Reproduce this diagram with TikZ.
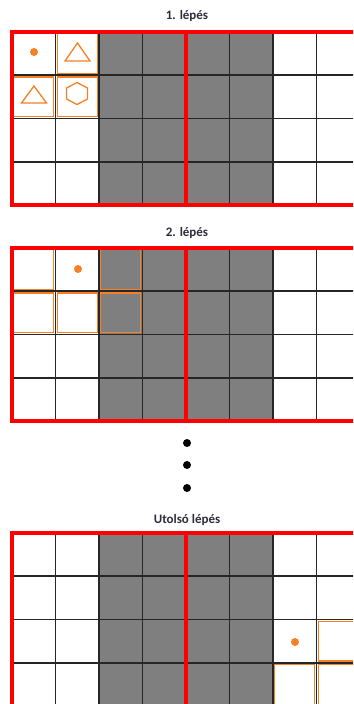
\documentclass[tikz,border=0pt]{standalone}
\usepackage{fontspec}
\setmainfont{Carlito}
\usetikzlibrary{positioning}
\definecolor{stepred}{HTML}{FF0000}
\definecolor{cellgray}{HTML}{7F7F7F}
\definecolor{hoodorange}{HTML}{F58025}
\definecolor{ink}{HTML}{2B2B3A}

\begin{document}
\begin{tikzpicture}[x=1bp, y=-1bp,
    gridline/.style={black!85, line width=1.8bp},
    frame/.style={stepred, line width=4bp},
    hood/.style={hoodorange, line width=1.3bp},
    steptitle/.style={font=\bfseries\fontsize{13}{15}\selectfont, text=ink}]
  % pixel coordinates of the 353x704 picture, y downwards
  \useasboundingbox (0,0) rectangle (353,704);
  \clip (0,0) rectangle (353,704);

  % one 4x8 board per step: top edge / title height / name / title
  \foreach \top/\ty/\name/\title in {32/16/one/{1. lépés},
                                     248/233/two/{2. lépés},
                                     533/520/last/{Utolsó lépés}}{
    % gray columns 3--6
    \fill[cellgray] (99,\top) rectangle (273,\top+173);
    % cell grid
    \foreach \i in {1,...,7}
      \draw[gridline] (12+43.5*\i,\top) -- (12+43.5*\i,\top+173);
    \foreach \j in {1,2,3}
      \draw[gridline] (12,\top+43.25*\j) -- (360,\top+43.25*\j);
    \node[steptitle] (title-\name) at (187,\ty) {\title};
  }

  % step 1: neighbourhood of the first cell
  \foreach \r/\c in {1/2, 2/1, 2/2}
    \draw[hood] (13.8+43.5*\c-43.5,33.8+43.25*\r-43.25) rectangle ++(40,39.7);
  \fill[hoodorange] (34,52) circle (4);
  \draw[hood] (77.5,43) -- (90,61) -- (65,61) -- cycle;
  \draw[hood] (34,86) -- (46.5,103) -- (21.5,103) -- cycle;
  \draw[hood] (77,82.5) -- (87.5,88) -- (87.5,99) -- (77,104.5)
    -- (66.5,99) -- (66.5,88) -- cycle;

  % step 2
  \foreach \r/\c in {1/1, 1/3, 2/1, 2/2, 2/3}
    \draw[hood] (13.8+43.5*\c-43.5,249.8+43.25*\r-43.25) rectangle ++(40,39.7);
  \fill[hoodorange] (78,269) circle (4);

  % last step
  \foreach \r/\c in {3/8, 4/7, 4/8}
    \draw[hood] (13.8+43.5*\c-43.5,534.8+43.25*\r-43.25) rectangle ++(40,39.7);
  \fill[hoodorange] (295,642) circle (4);

  % red frames, two halves per board
  \foreach \top in {32,248,533}{
    \draw[frame] (12,\top) rectangle (186,\top+173);
    \draw[frame] (186,\top) rectangle (360,\top+173);
  }

  % dots between step 2 and the last step
  \foreach \y in {443,465,488}
    \fill[black] (187,\y) circle (4);
\end{tikzpicture}
\end{document}
